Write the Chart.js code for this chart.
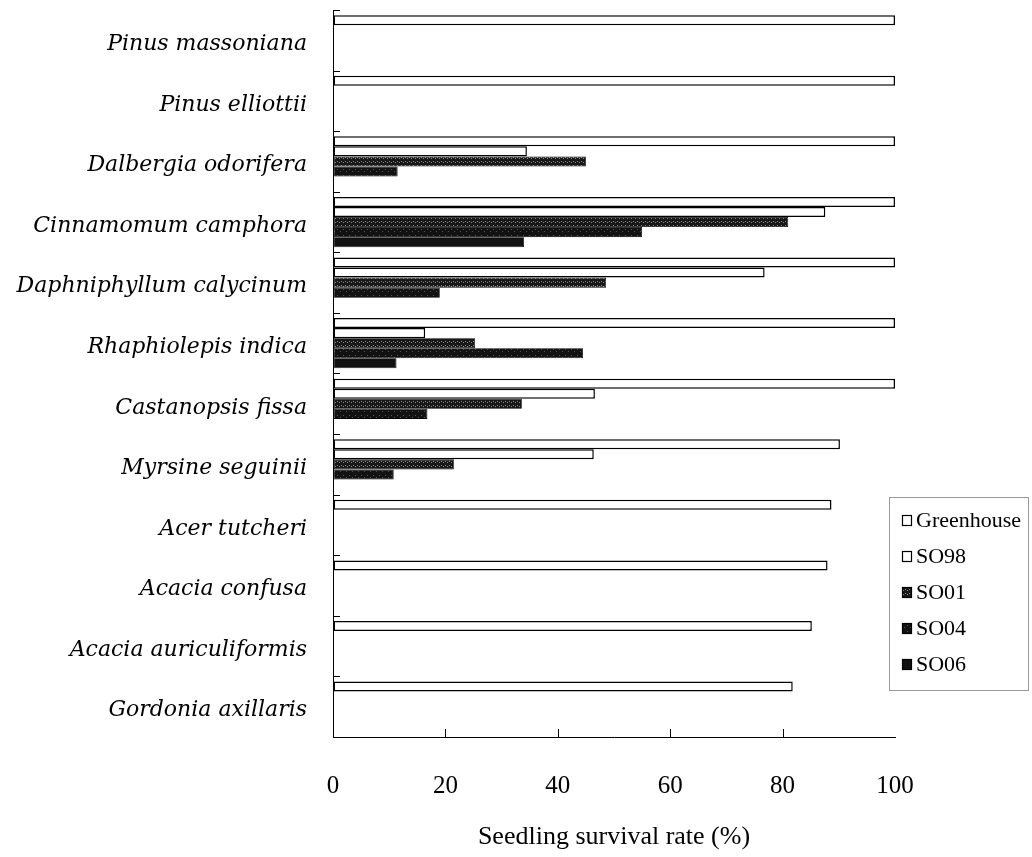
<!DOCTYPE html>
<html>
<head>
<meta charset="utf-8">
<script src="https://cdn.jsdelivr.net/npm/chart.js@4.4.1/dist/chart.umd.min.js"></script>
<style>
  body { margin: 0; background: #fff; }
  canvas { display: block; }
</style>
</head>
<body>
<canvas id="survivalChart" width="1032" height="857"></canvas>
<script>
const species = [
    'Pinus massoniana', 'Pinus elliottii', 'Dalbergia odorifera', 'Cinnamomum camphora',
    'Daphniphyllum calycinum', 'Rhaphiolepis indica', 'Castanopsis fissa', 'Myrsine seguinii',
    'Acer tutcheri', 'Acacia confusa', 'Acacia auriculiformis', 'Gordonia axillaris'
];
const greenhouse = [100, 100, 100, 100, 100, 100, 100, 90.2, 88.7, 88, 85.2, 81.8];
const so98 = [0, 0, 34.5, 87.6, 76.8, 16.4, 46.6, 46.4, 0, 0, 0, 0];
const so01 = [0, 0, 45, 81, 48.6, 25.3, 33.6, 21.5, 0, 0, 0, 0];
const so04 = [0, 0, 11.5, 55, 19, 44.5, 16.8, 10.8, 0, 0, 0, 0];
const so06 = [0, 0, 0, 34, 0, 11.3, 0, 0, 0, 0, 0, 0];
const xTicks = [0, 20, 40, 60, 80, 100];

const serif = '"Liberation Serif", "Times New Roman", serif';

// dark fill speckled with light dots, like the printed hatching
function speckle(base, dot, step) {
    const c = document.createElement('canvas');
    c.width = step; c.height = step;
    const g = c.getContext('2d');
    g.fillStyle = base;
    g.fillRect(0, 0, step, step);
    g.fillStyle = dot;
    g.fillRect(1, 1, 1, 1);
    g.fillRect(Math.floor(step / 2) + 1, Math.floor(step / 2), 1, 1);
    return g.createPattern(c, 'repeat');
}
const so01Fill = speckle('#181818', '#8c8c8c', 4);
const so04Fill = speckle('#121212', '#555', 6);

// inner tick marks on both axes
const innerTicks = {
    id: 'innerTicks',
    afterDraw(chart) {
        const { ctx, chartArea, scales } = chart;
        ctx.save();
        ctx.strokeStyle = '#000';
        ctx.lineWidth = 1;
        ctx.beginPath();
        const step = (chartArea.bottom - chartArea.top) / species.length;
        for (let i = 0; i <= species.length; i++) {
            const y = Math.round(scales.y.getPixelForValue(i) - step / 2) + 0.5;
            ctx.moveTo(chartArea.left, y);
            ctx.lineTo(chartArea.left + 7, y);
        }
        xTicks.slice(1, -1).forEach(v => {
            const x = Math.round(scales.x.getPixelForValue(v)) + 0.5;
            ctx.moveTo(x, chartArea.bottom);
            ctx.lineTo(x, chartArea.bottom - 8);
        });
        ctx.stroke();
        ctx.restore();
    }
};

// legend box sitting over the lower right of the plot
const boxLegend = {
    id: 'boxLegend',
    afterDraw(chart) {
        const { ctx } = chart;
        const left = 889, top = 497, width = 139, height = 193;
        ctx.save();
        ctx.strokeStyle = '#9a9a9a';
        ctx.lineWidth = 1;
        ctx.strokeRect(left + 0.5, top + 0.5, width, height);
        ctx.font = '22px ' + serif;
        ctx.textBaseline = 'middle';
        chart.data.datasets.forEach((ds, i) => {
            const cy = 520 + i * 36;
            ctx.fillStyle = ds.backgroundColor;
            ctx.fillRect(902, cy - 5, 10, 11);
            ctx.strokeStyle = '#000';
            ctx.lineWidth = 1.2;
            ctx.strokeRect(902.5, cy - 4.5, 9, 10);
            ctx.fillStyle = '#000';
            ctx.fillText(ds.label, 916, cy + 1);
        });
        ctx.restore();
    }
};

const barStyle = { borderColor: '#000', borderSkipped: false };

new Chart(document.getElementById('survivalChart'), {
    type: 'bar',
    data: {
        labels: species,
        datasets: [
            { label: 'Greenhouse', data: greenhouse, backgroundColor: '#fff', borderWidth: 1.5, ...barStyle },
            { label: 'SO98', data: so98, backgroundColor: '#fff', borderWidth: 1.5, ...barStyle },
            { label: 'SO01', data: so01, backgroundColor: so01Fill, borderWidth: 0.8, ...barStyle },
            { label: 'SO04', data: so04, backgroundColor: so04Fill, borderWidth: 0.8, ...barStyle },
            { label: 'SO06', data: so06, backgroundColor: '#111', borderWidth: 0.8, ...barStyle }
        ]
    },
    options: {
        indexAxis: 'y',
        responsive: false,
        animation: false,
        layout: { padding: { top: 10, right: 137, left: 0, bottom: 0 } },
        datasets: { bar: { categoryPercentage: 0.83, barPercentage: 1 } },
        plugins: {
            legend: { display: false },
            tooltip: { enabled: false }
        },
        scales: {
            x: {
                min: 0,
                max: 100,
                afterBuildTicks: scale => { scale.ticks = xTicks.map(v => ({ value: v })); },
                afterFit: scale => {
                    scale.height = 120;
                    scale.paddingLeft = 0;
                    scale.paddingRight = 0;
                },
                grid: { drawOnChartArea: false, drawTicks: false },
                border: { display: true, color: '#000', width: 1 },
                ticks: { color: '#000', padding: 34, font: { family: serif, size: 25 } },
                title: {
                    display: true,
                    text: 'Seedling survival rate (%)',
                    color: '#000',
                    font: { family: serif, size: 26 },
                    padding: { top: 0, bottom: 4 }
                }
            },
            y: {
                afterFit: scale => {
                    scale.width = 333;
                    scale.paddingTop = 0;
                    scale.paddingBottom = 0;
                },
                grid: { drawOnChartArea: false, drawTicks: false },
                border: { display: true, color: '#000', width: 1 },
                ticks: {
                    color: '#000',
                    padding: 26,
                    labelOffset: 4,
                    font: { family: '"DejaVu Serif", serif', style: 'italic', size: 22 }
                }
            }
        }
    },
    plugins: [innerTicks, boxLegend]
});
</script>
</body>
</html>
